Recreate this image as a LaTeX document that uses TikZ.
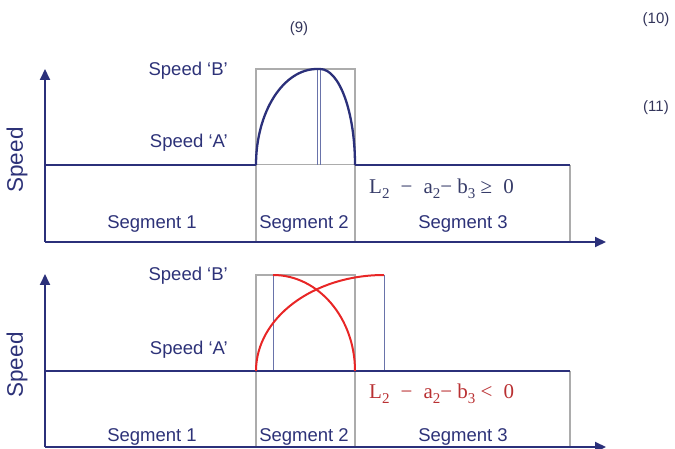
\documentclass[tikz,border=0pt]{standalone}
\usepackage{fontspec}
\setmainfont{Liberation Sans}
\newfontfamily\fmfont{Liberation Serif}
\usetikzlibrary{arrows.meta,calc}
\definecolor{navy}{RGB}{43,48,122}
\definecolor{txtnavy}{RGB}{45,50,120}
\definecolor{gbox}{RGB}{172,172,172}
\definecolor{thinb}{RGB}{105,115,170}
\definecolor{redc}{RGB}{232,38,38}
\definecolor{fmblue}{RGB}{55,60,105}
\definecolor{fmred}{RGB}{185,48,50}
\definecolor{numc}{RGB}{50,52,90}
\newcommand{\fsub}[1]{\raisebox{-0.22em}{\fontsize{15}{15}\selectfont #1}}
\begin{document}
\begin{tikzpicture}[x=1pt,y=-1pt,
  axis/.style={draw=navy,line width=2pt,-{Triangle[length=11pt,width=10pt]}},
  speedline/.style={draw=navy,line width=2.2pt},
  graybox/.style={draw=gbox,line width=1.8pt},
  thinline/.style={draw=thinb,line width=1pt},
  bluecurve/.style={draw=navy,line width=2.3pt},
  redcurve/.style={draw=redc,line width=2pt},
  lbl/.style={font=\fontsize{18.5}{20}\selectfont,text=txtnavy,inner sep=0pt},
  ylbl/.style={font=\fontsize{22.5}{24}\selectfont,text=txtnavy,inner sep=0pt,rotate=90},
  num/.style={font=\fontsize{15}{17}\selectfont,text=numc,inner sep=0pt},
  fm/.style={font=\fmfont\fontsize{21}{23}\selectfont,inner sep=0pt,anchor=west}]
\useasboundingbox (0,0) rectangle (675,449);

% ---------- numbers ----------
\node[num] (n9) at (299,29) {(9)};
\node[num] (n10) at (656,20) {(10)};
\node[num] (n11) at (656,108) {(11)};

% ---------- top diagram ----------
\coordinate (O1) at (45,242);
\coordinate (Y1) at (45,69);
\coordinate (X1) at (606,242);
\coordinate (A1l) at (45,165);
\coordinate (A1m) at (256,165);
\coordinate (A1n) at (355,165);
\coordinate (A1r) at (570,165);
\coordinate (G1a) at (256,69);
\coordinate (G1b) at (355,69);
\coordinate (G1c) at (256,242);
\coordinate (G1d) at (355,242);
\coordinate (G1e) at (570,242);
\coordinate (P1) at (317,69);
\coordinate (P2) at (320,69);
\coordinate (P1b) at (317,165);
\coordinate (P2b) at (320,165);

\draw[graybox] (G1c) -- (G1a) -- (G1b) -- (G1d);
\draw[draw=gbox,line width=1pt] (A1m) -- (A1n);
\draw[graybox] (A1r) -- (G1e);
\draw[thinline] (P1) -- (P1b);
\draw[thinline] (P2) -- (P2b);
\draw[speedline] (A1l) -- (A1m);
\draw[speedline] (A1n) -- (A1r);
\draw[bluecurve] (A1m) .. controls ($(A1m)!0.5523!(G1a)$) and ($(P1)!0.5523!(G1a)$) .. (P1) -- (P2)
  .. controls ($(P2)!0.5523!(G1b)$) and ($(A1n)!0.5523!(G1b)$) .. (A1n);
\draw[axis] (O1) -- (Y1);
\draw[axis] (O1) -- (X1);

\node[lbl,anchor=east] (sb1) at (228,71) {Speed ‘B’};
\node[lbl,anchor=east] (sa1) at (228,143) {Speed ‘A’};
\node[ylbl] (sp1) at (17,160) {Speed};
\node[lbl] (s11) at (152,224) {Segment 1};
\node[lbl] (s12) at (304,224) {Segment 2};
\node[lbl] (s13) at (463,224) {Segment 3};
\node[fm,text=fmblue] (f1) at (369,189) {L\fsub{2} \;−\; a\fsub{2}− b\fsub{3} ≥\; 0};

% ---------- bottom diagram ----------
\coordinate (O2) at (45,447);
\coordinate (Y2) at (45,274);
\coordinate (X2) at (606,447);
\coordinate (A2l) at (45,371);
\coordinate (A2m) at (256,371);
\coordinate (A2n) at (355,371);
\coordinate (A2r) at (570,371);
\coordinate (G2a) at (256,275);
\coordinate (G2b) at (355,275);
\coordinate (G2c) at (256,447);
\coordinate (G2d) at (355,447);
\coordinate (G2e) at (570,447);
\coordinate (Q1) at (273,275);
\coordinate (Q1b) at (273,371);
\coordinate (Q2) at (384,275);
\coordinate (Q2b) at (384,371);

\draw[graybox] (G2c) -- (G2a) -- (G2b) -- (G2d);
\draw[graybox] (A2r) -- (G2e);
\draw[thinline] (Q1) -- (Q1b);
\draw[thinline] (Q2) -- (Q2b);
\draw[speedline] (A2l) -- (A2r);
\draw[redcurve] (A2m) .. controls ($(A2m)!0.5523!(G2a)$) and ($(Q2)!0.5523!(G2a)$) .. (Q2);
\draw[redcurve] (Q1) .. controls ($(Q1)!0.5523!(G2b)$) and ($(A2n)!0.5523!(G2b)$) .. (A2n);
\draw[axis] (O2) -- (Y2);
\draw[axis] (O2) -- (X2);

\node[lbl,anchor=east] (sb2) at (228,276) {Speed ‘B’};
\node[lbl,anchor=east] (sa2) at (228,350) {Speed ‘A’};
\node[ylbl] (sp2) at (17,365) {Speed};
\node[lbl] (s21) at (152,437) {Segment 1};
\node[lbl] (s22) at (304,437) {Segment 2};
\node[lbl] (s23) at (463,437) {Segment 3};
\node[fm,text=fmred] (f2) at (369,394) {L\fsub{2} \;−\; a\fsub{2}− b\fsub{3} <\; 0};
\end{tikzpicture}
\end{document}
